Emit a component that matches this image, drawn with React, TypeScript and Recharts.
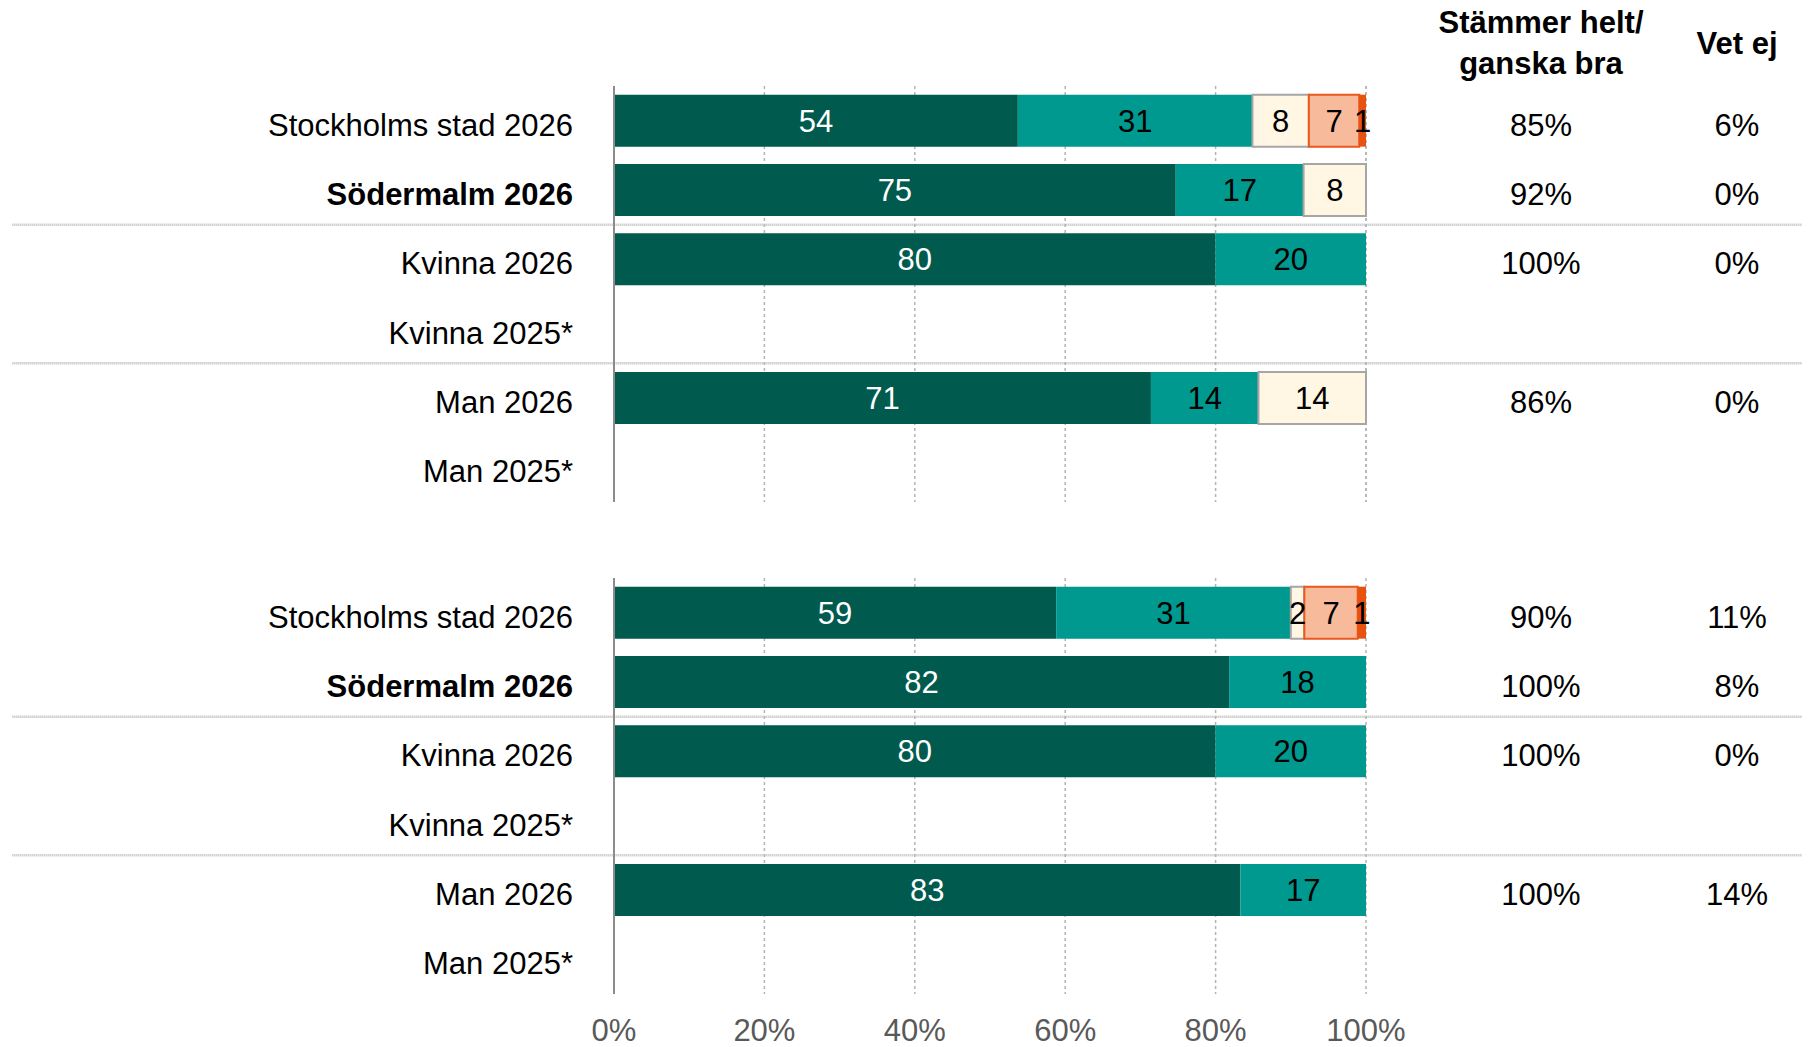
import { BarChart, Bar, XAxis, YAxis, CartesianGrid, LabelList, ReferenceLine } from 'recharts'

const categories = ['Stockholms stad 2026', 'Södermalm 2026', 'Kvinna 2026', 'Kvinna 2025*', 'Man 2026', 'Man 2025*']
const boldCategory = 'Södermalm 2026'
// separator drawn above these rows
const separators = ['Kvinna 2026', 'Man 2026']

// panel 1 (%)
const helt1 = [53.7, 74.7, 80, null, 71.4, null]
const ganskaBra1 = [31.2, 17.0, 20, null, 14.3, null]
const varken1 = [7.5, 8.3, null, null, 14.3, null]
const ganskaDaligt1 = [6.7, null, null, null, null, null]
const inteAlls1 = [0.9, null, null, null, null, null]
const total1 = ['85%', '92%', '100%', '', '86%', '']
const vetEj1 = ['6%', '0%', '0%', '', '0%', '']

// panel 2 (%)
const helt2 = [58.8, 81.8, 80, null, 83.3, null]
const ganskaBra2 = [31.2, 18.2, 20, null, 16.7, null]
const varken2 = [1.8, null, null, null, null, null]
const ganskaDaligt2 = [7.1, null, null, null, null, null]
const inteAlls2 = [1.1, null, null, null, null, null]
const total2 = ['90%', '100%', '100%', '', '100%', '']
const vetEj2 = ['11%', '8%', '0%', '', '14%', '']

const xTicks = [0, 20, 40, 60, 80, 100]

const FONT = '"Liberation Sans", Arial, sans-serif'
const colors = {
  helt: '#005A4E',
  ganskaBra: '#00998F',
  varken: '#FFF6E3',
  ganskaDaligt: '#F7BB9B',
  inteAlls: '#E8520F',
}

function buildRows(h, g, v, gd, ia) {
  return categories.map((category, i) => ({
    category,
    helt: h[i],
    ganskaBra: g[i],
    varken: v[i],
    ganskaDaligt: gd[i],
    inteAlls: ia[i],
  }))
}

const fmt = (v) => (v == null ? '' : Math.round(Number(v)))

function CategoryTick(props) {
  const { x, y, payload, totals, vetEj } = props
  const i = payload.index
  return (
    <g>
      <text x={x} y={y} dy={15} textAnchor="end" fontSize={31} fill="#000"
        fontWeight={payload.value === boldCategory ? 700 : 400}>
        {payload.value}
      </text>
      <text x={1541} y={y} dy={15} textAnchor="middle" fontSize={31} fill="#000">{totals[i]}</text>
      <text x={1737} y={y} dy={15} textAnchor="middle" fontSize={31} fill="#000">{vetEj[i]}</text>
    </g>
  )
}

function Panel({ rows, totals, vetEj, height, top, showX }) {
  return (
    <BarChart
      width={1819}
      height={height}
      data={rows}
      layout="vertical"
      barCategoryGap="12.5%"
      margin={{ top, right: 453, bottom: 0, left: 0 }}
    >
      <CartesianGrid horizontal={false} stroke="#B4B4B4" strokeWidth={1.5} strokeDasharray="3 3" />
      <XAxis
        type="number"
        domain={[0, 100]}
        ticks={xTicks}
        hide={!showX}
        height={53}
        axisLine={false}
        tickLine={false}
        tickSize={0}
        tickMargin={25}
        tick={{ fontSize: 31, fill: '#595959', fontFamily: FONT }}
        tickFormatter={(v) => `${v}%`}
      />
      <YAxis
        type="category"
        dataKey="category"
        width={614}
        interval={0}
        tickLine={false}
        tickSize={0}
        tickMargin={41}
        axisLine={{ stroke: '#8C8C8C', strokeWidth: 2 }}
        tick={<CategoryTick totals={totals} vetEj={vetEj} />}
      />
      {separators.map((c) => (
        <ReferenceLine
          key={c}
          segment={[{ x: -80, y: c }, { x: 158, y: c }]}
          position="start"
          ifOverflow="visible"
          stroke="#B8B8B8"
          strokeWidth={2.5}
          strokeDasharray="1 1"
        />
      ))}
      <Bar dataKey="helt" stackId="a" fill={colors.helt} isAnimationActive={false}>
        <LabelList dataKey="helt" position="center" formatter={fmt} fill="#fff" fontSize={31} />
      </Bar>
      <Bar dataKey="ganskaBra" stackId="a" fill={colors.ganskaBra} isAnimationActive={false}>
        <LabelList dataKey="ganskaBra" position="center" formatter={fmt} fill="#000" fontSize={31} />
      </Bar>
      <Bar dataKey="varken" stackId="a" fill={colors.varken} stroke="#A6A6A6" strokeWidth={2} isAnimationActive={false}>
        <LabelList dataKey="varken" position="center" formatter={fmt} fill="#000" fontSize={31} stroke="none" />
      </Bar>
      <Bar dataKey="ganskaDaligt" stackId="a" fill={colors.ganskaDaligt} stroke="#E9581E" strokeWidth={2} isAnimationActive={false}>
        <LabelList dataKey="ganskaDaligt" position="center" formatter={fmt} fill="#000" fontSize={31} stroke="none" />
      </Bar>
      <Bar dataKey="inteAlls" stackId="a" fill={colors.inteAlls} isAnimationActive={false}>
        <LabelList dataKey="inteAlls" position="center" formatter={fmt} fill="#000" fontSize={31} />
      </Bar>
    </BarChart>
  )
}

export default function App() {
  const rows1 = buildRows(helt1, ganskaBra1, varken1, ganskaDaligt1, inteAlls1)
  const rows2 = buildRows(helt2, ganskaBra2, varken2, ganskaDaligt2, inteAlls2)
  const head = { position: 'absolute', fontSize: 31, fontWeight: 700, textAlign: 'center', lineHeight: '41px' } as const

  return (
    <div style={{ position: 'absolute', left: 0, top: 0, width: 1819, height: 1047, background: '#fff', fontFamily: FONT }}>
      <div style={{ ...head, left: 1391, width: 300, top: 2 }}>
        Stämmer helt/
        <br />
        ganska bra
      </div>
      <div style={{ ...head, left: 1637, width: 200, top: 23 }}>Vet ej</div>

      <div style={{ position: 'absolute', left: 0, top: 0 }}>
        <Panel rows={rows1} totals={total1} vetEj={vetEj1} height={502} top={86} showX={false} />
      </div>
      <div style={{ position: 'absolute', left: 0, top: 510 }}>
        <Panel rows={rows2} totals={total2} vetEj={vetEj2} height={537} top={68} showX />
      </div>
    </div>
  )
}
